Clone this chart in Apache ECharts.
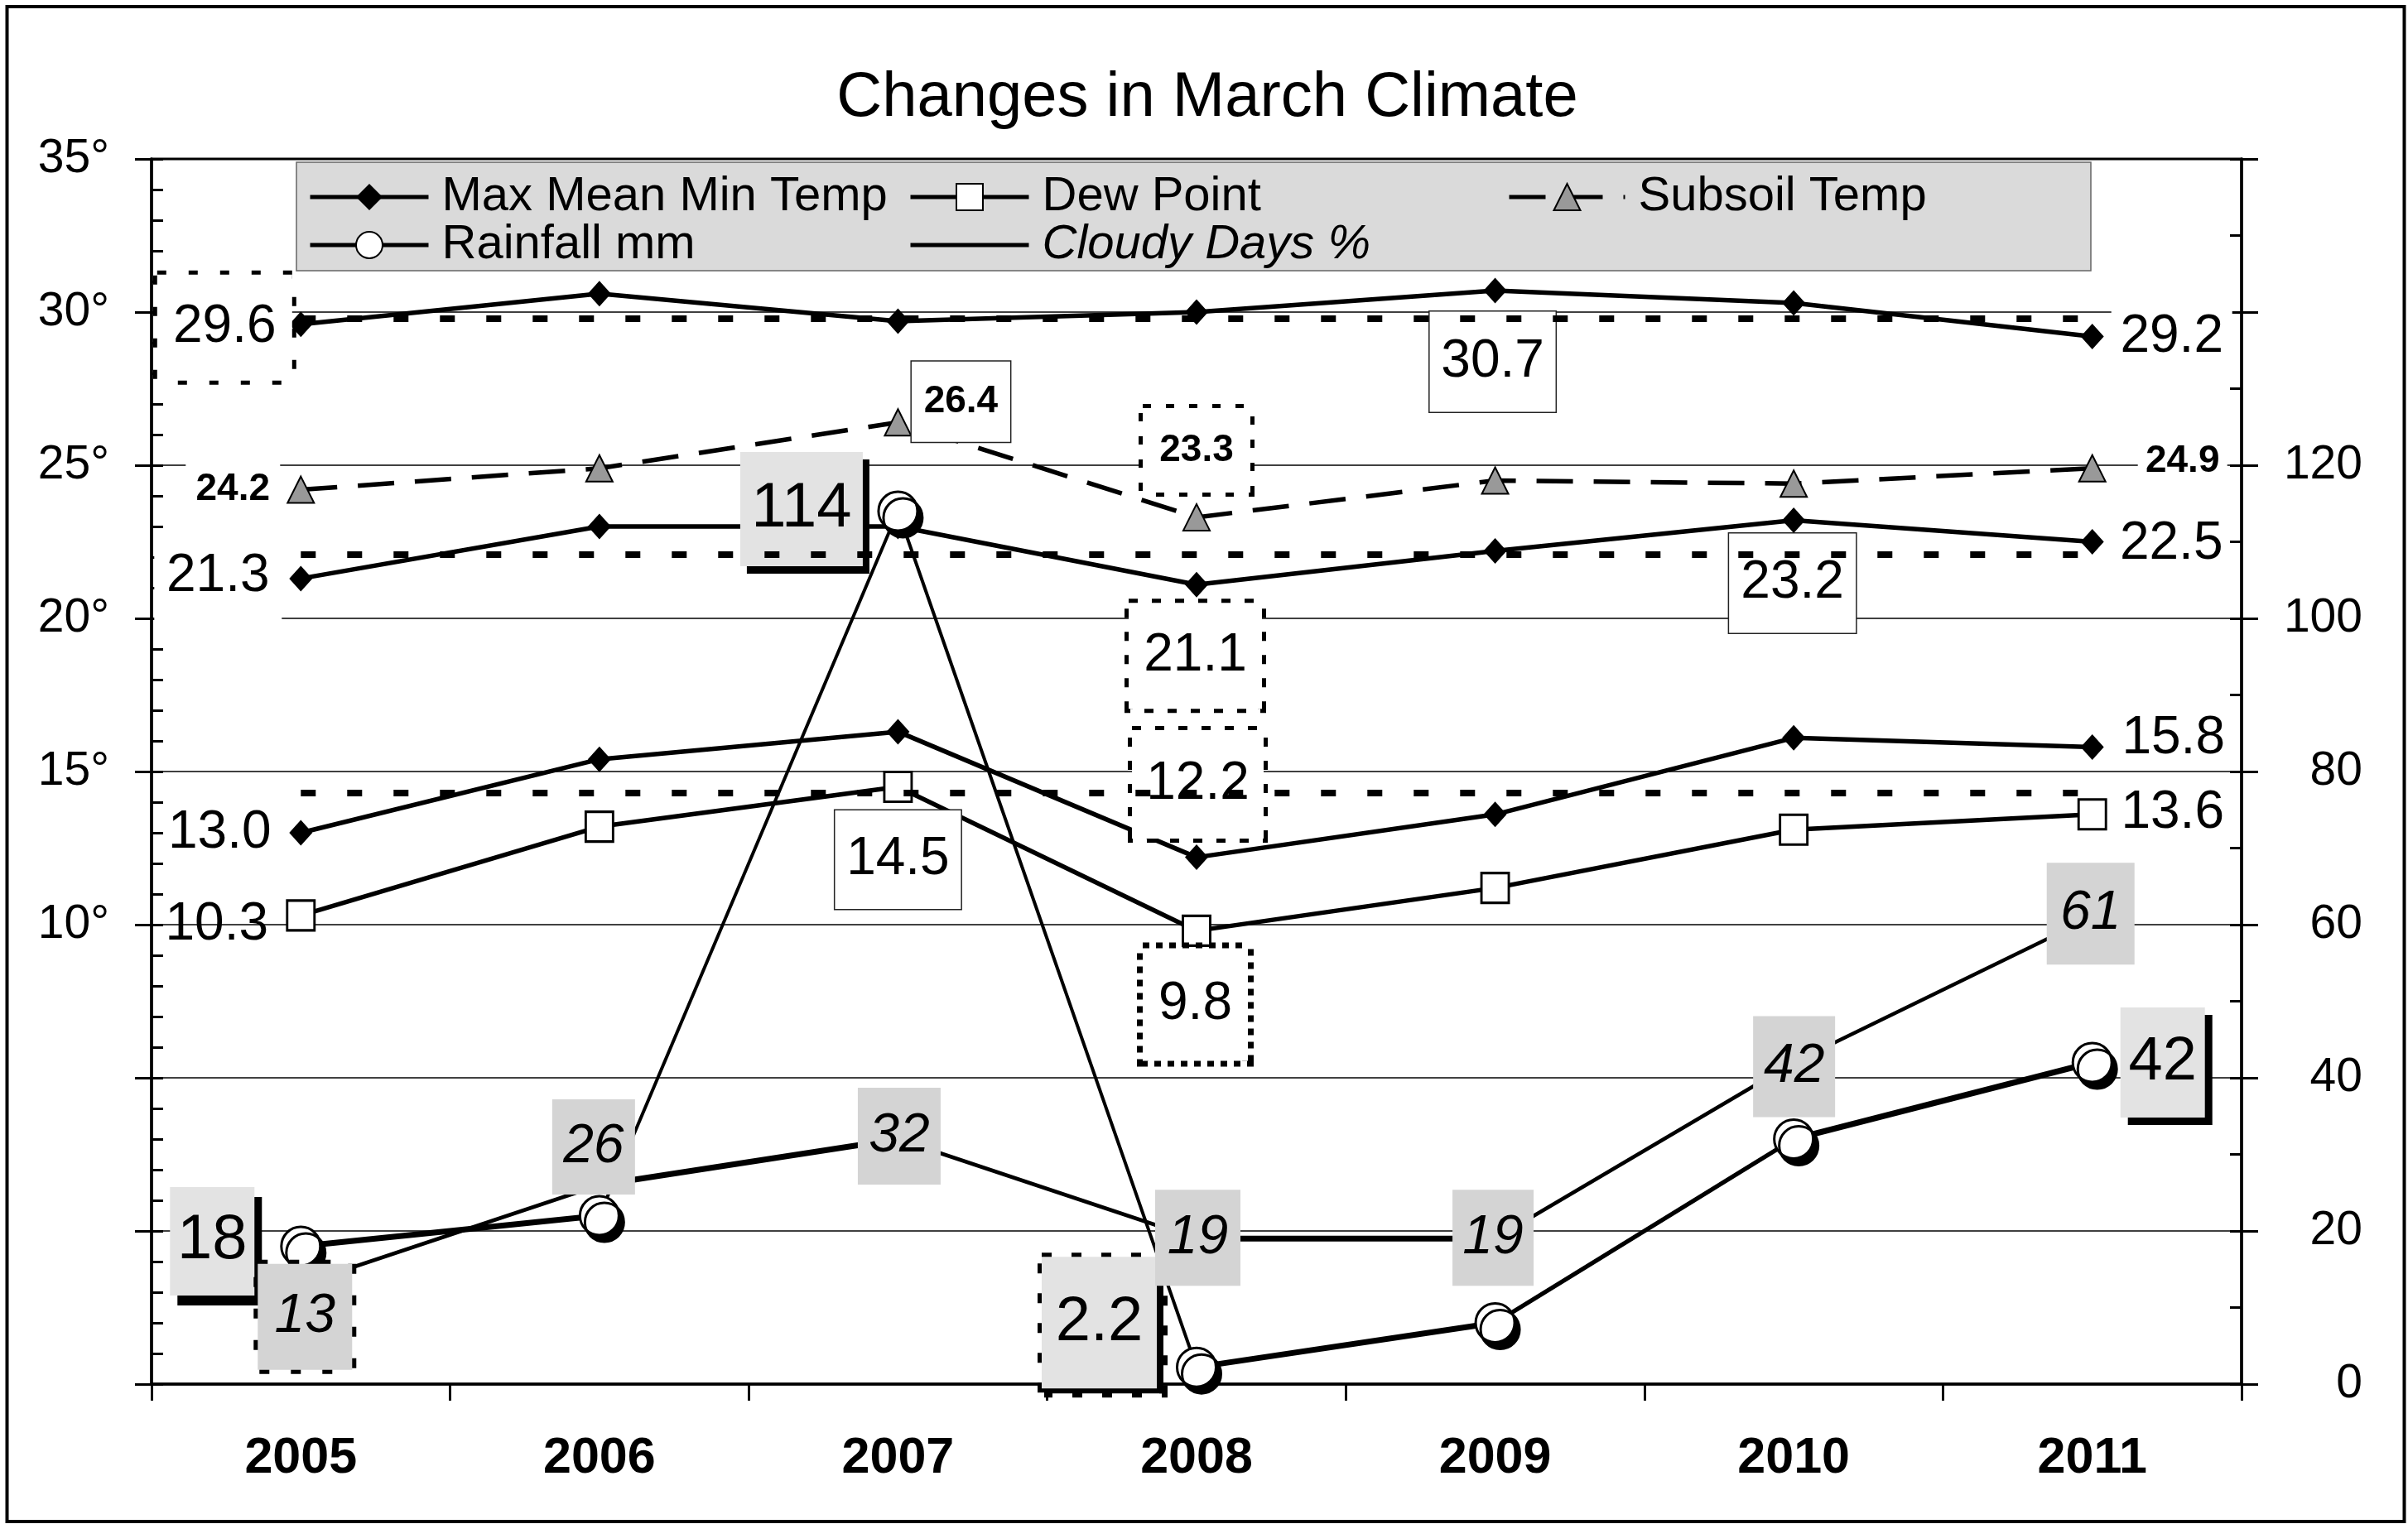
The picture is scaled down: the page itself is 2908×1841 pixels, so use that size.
<!DOCTYPE html>
<html><head><meta charset="utf-8">
<script src="https://cdn.jsdelivr.net/npm/echarts@6/dist/echarts.min.js"></script>
<style>html,body{margin:0;padding:0;background:#fff;overflow:hidden}#c{width:2908px;height:1841px}</style>
</head><body><div id="c"></div>
<script>
// ---------------- data ----------------
const years = ['2005', '2006', '2007', '2008', '2009', '2010', '2011'];
const maxTemp = [29.6, 30.6, 29.7, 30.0, 30.7, 30.3, 29.2];
const meanTemp = [21.3, 23.0, 23.0, 21.1, 22.2, 23.2, 22.5];
const minTemp = [13.0, 15.4, 16.3, 12.2, 13.6, 16.1, 15.8];
const dewPoint = [10.3, 13.2, 14.5, 9.8, 11.2, 13.1, 13.6];
const subsoilTemp = [24.2, 24.9, 26.4, 23.3, 24.5, 24.4, 24.9];
const rainfall = [18, 22, 114, 2.2, 8, 32, 42];
const cloudyDays = [13, 26, 32, 19, 19, 42, 61];
const tempRefLevels = [29.8, 22.1, 14.3];           // dotted reference lines (max, mean, min)
const tempTickLabels = [10, 15, 20, 25, 30, 35];     // labelled left-axis ticks (°)
const rightTickLabels = [0, 20, 40, 60, 80, 100, 120];

// ---------------- styles ----------------
const F = '"Liberation Sans", Arial, Helvetica, sans-serif';
const rainSegWidths = [7, 0, 0, 7, 5, 7];   // 0 = base width only
const cloudySegWidths = [0, 7, 0, 7, 0, 0];
const PT = 13; // top padding to centre digits optically

function lbl(dx, dy, w, h, o) {
  return Object.assign({
    show: true, position: 'inside', offset: [dx, dy], width: w, lineHeight: h - PT,
    align: 'center', verticalAlign: 'middle', color: '#000', fontFamily: F,
    fontSize: 64, padding: [PT, 0, 0, 0]
  }, o || {});
}
const WHITE = { backgroundColor: '#fff' };
const THIN = { backgroundColor: '#fff', borderColor: '#222', borderWidth: 1.5 };
function dotted(d) { return { backgroundColor: '#fff', borderColor: '#000', borderWidth: 5, borderType: d }; }
const HATCH = '#e3e3e3';
const STIP = '#d4d4d4';
function shadow(x, y) { return { shadowColor: '#000', shadowBlur: 0, shadowOffsetX: x, shadowOffsetY: y }; }

const maxLabels = [lbl(-92, 4, 163, 128, dotted([11, 27])), null, null, null,
  lbl(-3, 86, 152, 121, THIN), null, lbl(96, 1, 146, 70, WHITE)];
const meanLabels = [lbl(-100, -3, 154, 112, WHITE), null, null,
  lbl(-1.5, 86, 161, 128, dotted([11, 17])), null, lbl(-1.5, 76, 153, 120, THIN), lbl(95.5, 2.5, 140, 64)];
const minLabels = [lbl(-98, 0, 140, 64), null, null,
  lbl(1.5, -88, 159, 131, dotted([11, 17])), null, null, lbl(98, -10, 140, 64)];
const dewLabels = [lbl(-101.5, 11, 140, 64), null, lbl(0, 88, 152, 119, THIN),
  lbl(-1.5, 89, 127, 136, { backgroundColor: '#fff', borderColor: '#000', borderWidth: 7, borderType: [8, 8] }),
  null, null, lbl(97, -1, 140, 64)];
const B = { fontWeight: 'bold', fontSize: 46 };
const subsoilLabels = [lbl(-82, 0, 114, 64, Object.assign({}, B, WHITE)), null,
  lbl(76, -25, 119, 97, Object.assign({}, B, THIN)),
  lbl(0, -81, 130, 102, Object.assign({}, B, dotted([10, 18]))), null, null,
  lbl(109, -8, 108, 52, Object.assign({}, B, WHITE))];
const R = { fontSize: 76, backgroundColor: HATCH };
const rainLabels = [lbl(-107, -6, 102, 131, Object.assign({}, R, shadow(9, 12))), null,
  lbl(-116.5, -2.5, 148, 138, Object.assign({}, R, shadow(8, 9))),
  lbl(-117.5, -54, 139, 159, Object.assign({}, R, shadow(8, 6), { borderColor: '#000', borderWidth: 5, borderType: [12, 24] })),
  null, null, lbl(85, 0, 102, 133, Object.assign({}, R, shadow(9, 9), { fontSize: 74 }))];
const C = { fontStyle: 'italic', fontSize: 66, backgroundColor: STIP };
const cloudyLabels = [
  lbl(5, 39, 114, 128, Object.assign({}, C, { borderColor: '#000', borderWidth: 5, borderType: [12, 26] })),
  lbl(-7, -46, 100, 115, C), lbl(1.5, -3.5, 100, 117, C), lbl(1.5, -1, 103, 116, C),
  lbl(-2.5, -1, 98, 116, C), lbl(0.5, 5, 99, 122, C), lbl(-2, -4, 106, 123, C)];

function pts(arr, labels, fmt) {
  return arr.map((v, i) => labels[i] ? { value: v, label: Object.assign({ formatter: fmt }, labels[i]) } : v);
}
const fmt1 = p => Number(p.value).toFixed(1);
const fmt0 = p => String(p.value);

function refLine(v) {
  return {
    symbol: 'none', silent: true, label: { show: false }, emphasis: { disabled: true },
    lineStyle: { type: [18, 38], width: 8, color: '#000', cap: 'butt' },
    data: [[{ coord: [years[0], v] }, { coord: [years[years.length - 1], v] }]]
  };
}
function segs(arr, widths, yAxisIndex, z) {
  return widths.map((w, i) => w ? {
    type: 'line', yAxisIndex: yAxisIndex, z: z, silent: true, symbol: 'none', legendHoverLink: false,
    lineStyle: { color: '#000', width: w }, emphasis: { disabled: true },
    data: arr.map((v, j) => (j === i || j === i + 1) ? v : '-')
  } : null).filter(Boolean);
}

const diamond = { symbol: 'diamond', symbolSize: [28, 31], itemStyle: { color: '#000', borderWidth: 0 } };
const tempLine = { color: '#000', width: 5.5 };

const series = [
  Object.assign({ name: 'Max Mean Min Temp', type: 'line', z: 3, lineStyle: tempLine,
    data: pts(maxTemp, maxLabels, fmt1), markLine: refLine(tempRefLevels[0]) }, diamond),
  Object.assign({ name: 'Max Mean Min Temp', type: 'line', z: 3, lineStyle: tempLine,
    data: pts(meanTemp, meanLabels, fmt1), markLine: refLine(tempRefLevels[1]) }, diamond),
  Object.assign({ name: 'Max Mean Min Temp', type: 'line', z: 3, lineStyle: tempLine,
    data: pts(minTemp, minLabels, fmt1), markLine: refLine(tempRefLevels[2]) }, diamond),
  { name: 'Dew Point', type: 'line', z: 3, symbol: 'rect', symbolSize: [33, 36],
    itemStyle: { color: '#fff', borderColor: '#000', borderWidth: 3 }, lineStyle: tempLine,
    data: pts(dewPoint, dewLabels, fmt1) },
  { name: 'Subsoil Temp', type: 'line', z: 3, symbol: 'triangle', symbolSize: [32, 32],
    itemStyle: { color: '#999', borderColor: '#000', borderWidth: 2 },
    lineStyle: { color: '#000', width: 5.5, type: [44, 25] },
    data: pts(subsoilTemp, subsoilLabels, fmt1) },
  { name: 'Rainfall mm', type: 'line', yAxisIndex: 1, z: 4, symbol: 'circle', symbolSize: 47,
    itemStyle: { color: '#fff', borderColor: '#000', borderWidth: 3, shadowColor: '#000', shadowBlur: 0, shadowOffsetX: 6, shadowOffsetY: 8 },
    lineStyle: { color: '#000', width: 4 },
    data: pts(rainfall, rainLabels, fmt0) },
  { name: 'Cloudy Days %', type: 'line', yAxisIndex: 1, z: 5, symbol: 'circle', symbolSize: 2,
    itemStyle: { color: 'rgba(0,0,0,0)', borderWidth: 0 },
    lineStyle: { color: '#000', width: 4.5 },
    data: pts(cloudyDays, cloudyLabels, fmt0) }
].concat(segs(rainfall, rainSegWidths, 1, 2), segs(cloudyDays, cloudySegWidths, 1, 4.5));
series.forEach(s => { s.emphasis = { disabled: true }; if (s.silent === undefined) s.silent = true; });

const legendBase = {
  orient: 'vertical', selectedMode: false, itemWidth: 143, itemHeight: 40, itemGap: 0, top: 209, padding: 0,
  textStyle: { fontFamily: F, fontSize: 58, color: '#000', lineHeight: 58, padding: [0, 0, 0, 11] },
  lineStyle: { width: 5, opacity: 1 },
  itemStyle: { shadowBlur: 0, shadowOffsetX: 0, shadowOffsetY: 0, shadowColor: 'rgba(0,0,0,0)' }
};

const option = {
  animation: false,
  backgroundColor: '#fff',
  graphic: [
    { type: 'rect', z: 0, shape: { x: 8.5, y: 8, width: 2895, height: 1830 }, style: { fill: 'rgba(0,0,0,0)', stroke: '#000', lineWidth: 4 } },
    { type: 'rect', z: 1, shape: { x: 358, y: 196, width: 2167, height: 131 }, style: { fill: '#dadada', stroke: '#666', lineWidth: 1.5 } },
    { type: 'text', z: 1, x: 1458, y: 119, style: { text: 'Changes in March Climate', fontSize: 76, fontFamily: F, fill: '#000', align: 'center', verticalAlign: 'middle' } }
  ],
  legend: [
    Object.assign({}, legendBase, { left: 372, data: ['Max Mean Min Temp', 'Rainfall mm'] }),
    Object.assign({}, legendBase, { left: 1097, data: ['Dew Point', { name: 'Cloudy Days %', textStyle: { fontStyle: 'italic' } }] }),
    Object.assign({}, legendBase, { left: 1820, itemWidth: 140, data: ['Subsoil Temp'] })
  ],
  grid: { left: 183, right: 201, top: 192, bottom: 169, show: true, borderColor: '#000', borderWidth: 3, backgroundColor: 'rgba(0,0,0,0)', containLabel: false, outerBoundsMode: 'none' },
  xAxis: {
    type: 'category', data: years, boundaryGap: true,
    axisLine: { show: true, onZero: false, lineStyle: { color: '#000', width: 3.5 } },
    axisTick: { show: true, length: 20, alignWithLabel: false, lineStyle: { color: '#000', width: 3 } },
    axisLabel: { interval: 0, margin: 60, fontFamily: F, fontSize: 61, fontWeight: 'bold', color: '#000' },
    splitLine: { show: false }
  },
  yAxis: [
    { type: 'value', min: -5, max: 35, interval: 5, position: 'left',
      axisLine: { show: true, onZero: false, lineStyle: { color: '#000', width: 3.5 } },
      axisTick: { show: true, length: 20, lineStyle: { color: '#000', width: 3 } },
      axisLabel: { margin: 51, fontFamily: F, fontSize: 57, color: '#000', padding: [10, 0, 0, 0],
        formatter: v => tempTickLabels.indexOf(v) >= 0 ? v + '°' : '' },
      splitLine: { show: true, lineStyle: { color: '#000', width: 1.5 } } },
    { type: 'value', min: 0, max: 160, interval: 20, position: 'right',
      axisLine: { show: true, onZero: false, lineStyle: { color: '#000', width: 3.5 } },
      axisTick: { show: true, length: 20, lineStyle: { color: '#000', width: 3 } },
      axisLabel: { margin: 146, align: 'right', fontFamily: F, fontSize: 57, color: '#000', padding: [10, 0, 0, 0],
        formatter: v => rightTickLabels.indexOf(v) >= 0 ? String(v) : '' },
      splitLine: { show: false } },
    { type: 'value', min: -5, max: 35, interval: 1, position: 'left',
      axisLine: { show: false }, axisLabel: { show: false }, splitLine: { show: false },
      axisTick: { show: true, inside: true, length: 14, lineStyle: { color: '#000', width: 3 } } },
    { type: 'value', min: 0, max: 160, interval: 10, position: 'right',
      axisLine: { show: false }, axisLabel: { show: false }, splitLine: { show: false },
      axisTick: { show: true, inside: true, length: 14, lineStyle: { color: '#000', width: 3 } } }
  ],
  series: series
};

const chart = echarts.init(document.getElementById('c'), null, { renderer: 'canvas' });
chart.setOption(option);
</script>
</body></html>
